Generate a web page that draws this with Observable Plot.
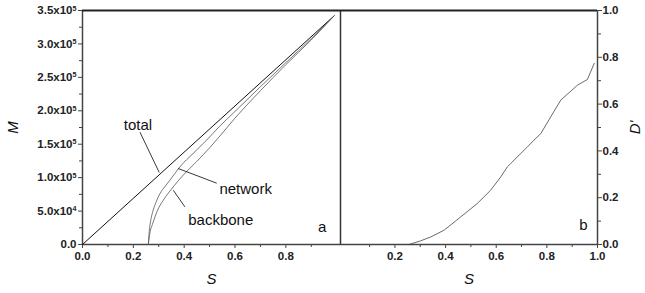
<!DOCTYPE html>
<html>
<head>
<meta charset="utf-8">
<script src="https://cdn.jsdelivr.net/npm/d3@7"></script>
<script src="https://cdn.jsdelivr.net/npm/@observablehq/plot@0.6"></script>
<style>
  body { margin: 0; background: #fff; }
  #wrap { position: relative; width: 645px; height: 293px; background: #fff; }
  #wrap svg { position: absolute; top: 0; font-family: "Liberation Sans", Arial, sans-serif; }
  g[aria-label$="tick label"] text { fill: #222; font-weight: bold; }
  g[aria-label$="axis label"] text { font-style: italic; font-size: 15px; fill: #111; }
</style>
</head>
<body>
<div id="wrap"></div>
<script>
// ---- Panel a data ----
const totalS = [0, 0.99];
const totalM = [0, 3.42e5];
const networkS = [0.259, 0.261, 0.263, 0.268, 0.278, 0.29, 0.305, 0.325, 0.344, 0.383, 0.435, 0.488, 0.54, 0.6, 0.7, 0.8, 0.9, 0.99];
const networkM = [0, 0.12e5, 0.214e5, 0.35e5, 0.513e5, 0.64e5, 0.763e5, 0.87e5, 0.962e5, 1.161e5, 1.361e5, 1.56e5, 1.77e5, 1.99e5, 2.36e5, 2.72e5, 3.08e5, 3.42e5];
const backboneS = [0.259, 0.262, 0.265, 0.275, 0.285, 0.3, 0.318, 0.357, 0.396, 0.449, 0.501, 0.54, 0.6, 0.7, 0.8, 0.9, 0.99];
const backboneM = [0, 0.09e5, 0.169e5, 0.3e5, 0.413e5, 0.55e5, 0.663e5, 0.862e5, 1.037e5, 1.24e5, 1.45e5, 1.62e5, 1.89e5, 2.30e5, 2.69e5, 3.06e5, 3.42e5];

// ---- Panel b data ----
const dS = [0.255, 0.3, 0.341, 0.394, 0.46, 0.525, 0.578, 0.618, 0.644, 0.657, 0.71, 0.723, 0.749, 0.776, 0.815, 0.855, 0.921, 0.96, 0.987];
const dD = [0, 0.015, 0.032, 0.061, 0.118, 0.175, 0.232, 0.289, 0.332, 0.346, 0.403, 0.417, 0.446, 0.474, 0.545, 0.617, 0.681, 0.705, 0.774];

// ---- Ticks ----
const aXTicks = [0, 0.2, 0.4, 0.6, 0.8];
const aXTickLabels = ["0.0", "0.2", "0.4", "0.6", "0.8"];
const aXMinor = [0.1, 0.3, 0.5, 0.7, 0.9];
const aYTicks = [0, 0.5e5, 1.0e5, 1.5e5, 2.0e5, 2.5e5, 3.0e5, 3.5e5];
const aYTickLabels = ["0.0", "5.0x10^4", "1.0x10^5", "1.5x10^5", "2.0x10^5", "2.5x10^5", "3.0x10^5", "3.5x10^5"];
const aYMinor = [0.25e5, 0.75e5, 1.25e5, 1.75e5, 2.25e5, 2.75e5, 3.25e5];
const bXTicks = [0.2, 0.4, 0.6, 0.8, 1.0];
const bXTickLabels = ["0.2", "0.4", "0.6", "0.8", "1.0"];
const bXMinor = [0.1, 0.3, 0.5, 0.7, 0.9];
const bYTicks = [0, 0.2, 0.4, 0.6, 0.8, 1.0];
const bYTickLabels = ["0.0", "0.2", "0.4", "0.6", "0.8", "1.0"];
const bYMinor = [0.1, 0.3, 0.5, 0.7, 0.9];

// ---- Annotations ----
const annText = ["total", "network", "backbone"];
const annX = [0.218, 0.642, 0.544];
const annY = [1.785e5, 0.827e5, 0.364e5];
const leadX1 = [0.226, 0.528, 0.403];
const leadY1 = [1.68e5, 0.917e5, 0.562e5];
const leadX2 = [0.302, 0.376, 0.357];
const leadY2 = [1.077e5, 1.137e5, 0.812e5];

const toPts = (xs, ys) => xs.map((x, i) => ({x, y: ys[i]}));
const lab = (ticks, labels) => v => labels[ticks.findIndex(t => Math.abs(t - v) < 1e-9)] ?? "";

const axisColor = "#444";
const fontSize = "11.5px";

const plotA = Plot.plot({
  width: 340, height: 293,
  marginLeft: 82, marginRight: 0, marginTop: 10, marginBottom: 49,
  style: {fontSize, color: "#222", background: "transparent"},
  x: {domain: [0, 1.015]},
  y: {domain: [0, 3.5e5]},
  marks: [
    Plot.axisX({ticks: aXTicks, tickFormat: lab(aXTicks, aXTickLabels), tickSize: 4, tickPadding: 3, stroke: axisColor, label: "S", labelAnchor: "center", labelArrow: "none", labelOffset: 39}),
    Plot.axisX({ticks: aXMinor, tickFormat: () => "", tickSize: 3, stroke: axisColor, label: null}),
    Plot.axisY({ticks: aYTicks, tickFormat: lab(aYTicks, aYTickLabels), tickSize: 4, tickPadding: 2, stroke: axisColor, label: "M", labelAnchor: "center", labelArrow: "none", labelOffset: 75}),
    Plot.axisY({ticks: aYMinor, tickFormat: () => "", tickSize: 3, stroke: axisColor, label: null}),
    Plot.ruleX([0], {stroke: axisColor, strokeWidth: 1.5}),
    Plot.ruleY([0], {stroke: axisColor, strokeWidth: 1.5}),
    Plot.ruleY([3.5e5], {stroke: "#222", strokeWidth: 2}),
    Plot.line(toPts(totalS, totalM), {x: "x", y: "y", stroke: "#111", strokeWidth: 1}),
    Plot.line(toPts(networkS, networkM), {x: "x", y: "y", stroke: "#555", strokeWidth: 0.8, curve: "monotone-x"}),
    Plot.line(toPts(backboneS, backboneM), {x: "x", y: "y", stroke: "#555", strokeWidth: 0.8, curve: "monotone-x"}),
    Plot.link(annText.map((t, i) => i), {x1: i => leadX1[i], y1: i => leadY1[i], x2: i => leadX2[i], y2: i => leadY2[i], stroke: "#222", strokeWidth: 0.9}),
    Plot.text(annText.map((t, i) => i), {x: i => annX[i], y: i => annY[i], text: i => annText[i], fontSize: 15, fill: "#111"}),
    Plot.text(["a"], {x: [0.943], y: [0.254e5], text: d => d, fontSize: 15, fill: "#111"})
  ]
});

const plotB = Plot.plot({
  width: 306, height: 293,
  marginLeft: 1, marginRight: 48, marginTop: 10, marginBottom: 49,
  style: {fontSize, color: "#222", background: "transparent"},
  x: {domain: [-0.015, 1.0]},
  y: {domain: [0, 1.0]},
  marks: [
    Plot.axisX({ticks: bXTicks, tickFormat: lab(bXTicks, bXTickLabels), tickSize: 4, tickPadding: 3, stroke: axisColor, label: "S", labelAnchor: "center", labelArrow: "none", labelOffset: 39}),
    Plot.axisX({ticks: bXMinor, tickFormat: () => "", tickSize: 3, stroke: axisColor, label: null}),
    Plot.axisY({anchor: "right", ticks: bYTicks, tickFormat: lab(bYTicks, bYTickLabels), tickSize: 4, tickPadding: 1, stroke: axisColor, label: "D'", labelAnchor: "center", labelArrow: "none", labelOffset: 42}),
    Plot.axisY({anchor: "right", ticks: bYMinor, tickFormat: () => "", tickSize: 3, stroke: axisColor, label: null}),
    Plot.ruleX([-0.015], {stroke: "#333", strokeWidth: 1.5}),
    Plot.ruleX([1.0], {stroke: axisColor, strokeWidth: 1.5}),
    Plot.ruleY([0], {stroke: axisColor, strokeWidth: 1.5}),
    Plot.ruleY([1.0], {stroke: "#222", strokeWidth: 2}),
    Plot.line(toPts(dS, dD), {x: "x", y: "y", stroke: "#444", strokeWidth: 0.8}),
    Plot.text(["b"], {x: [0.944], y: [0.082], text: d => d, fontSize: 15, fill: "#111"})
  ]
});

const wrap = document.getElementById("wrap");
plotA.style.left = "0px";
plotB.style.left = "339px";
wrap.appendChild(plotA);
wrap.appendChild(plotB);

// superscript exponents in tick labels
d3.select(plotA).selectAll('g[aria-label="y-axis tick label"] text').each(function() {
  const t = d3.select(this);
  const s = t.text();
  if (s.includes("^")) {
    const [base, exp] = s.split("^");
    t.text(base);
    t.append("tspan").attr("dy", "-0.5em").attr("font-size", "0.62em").text(exp);
  }
});
</script>
</body>
</html>
